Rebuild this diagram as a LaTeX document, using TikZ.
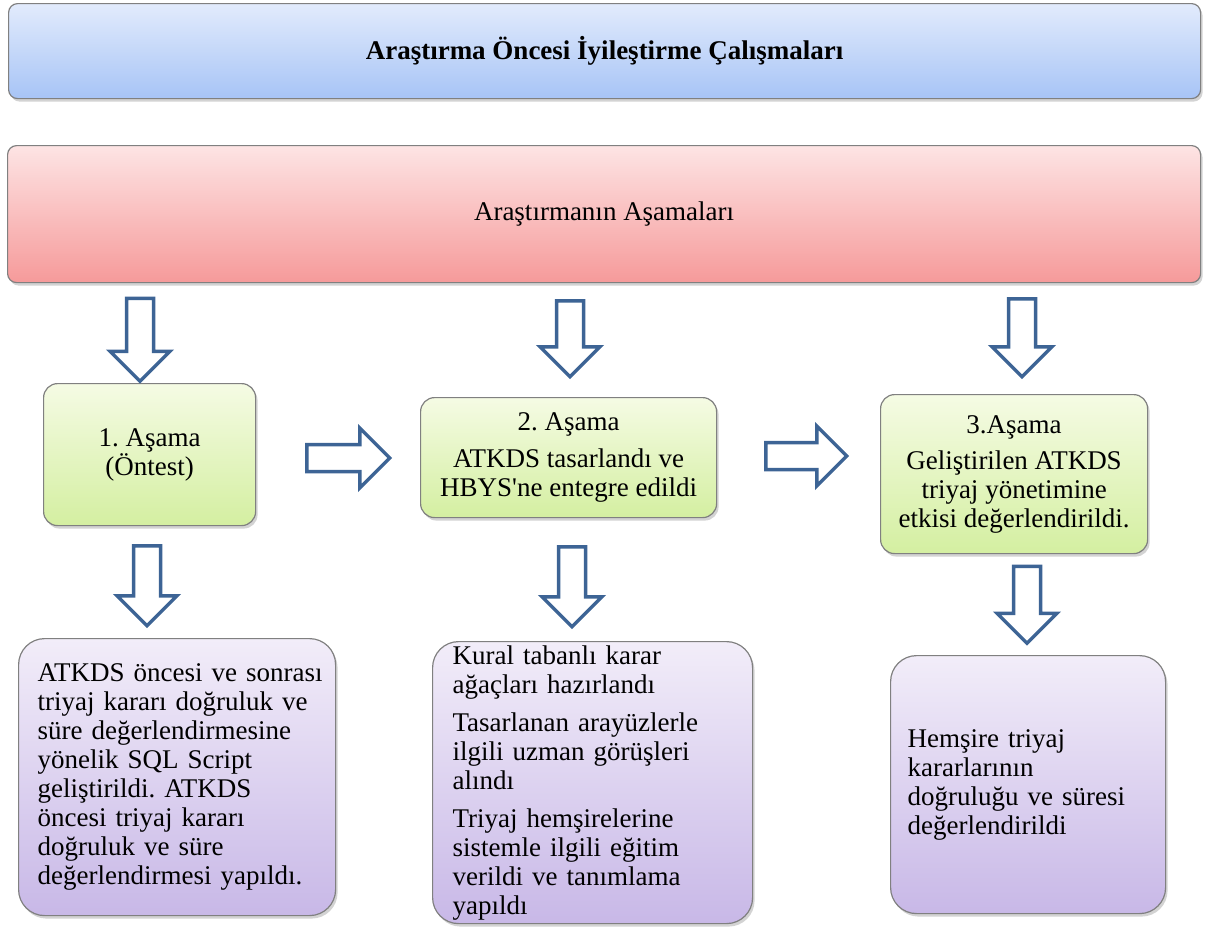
\documentclass[tikz,border=0pt]{standalone}
\usepackage{fontspec}
\setmainfont{Liberation Serif}
\usetikzlibrary{shapes.arrows,shadows,positioning}

\definecolor{arrowblue}{HTML}{3D6495}
\definecolor{boxline}{HTML}{808080}
\definecolor{bluetop}{HTML}{E2EBFC}
\definecolor{bluebot}{HTML}{A7C4F6}
\definecolor{pinktop}{HTML}{FDE4E4}
\definecolor{pinkbot}{HTML}{F69A9A}
\definecolor{greentop}{HTML}{F5FBE4}
\definecolor{greenbot}{HTML}{D4EFA1}
\definecolor{purpletop}{HTML}{F2EDF9}
\definecolor{purplebot}{HTML}{C8B8E7}

\newcommand{\boxfont}{\frenchspacing\fontsize{27}{29}\selectfont}

\tikzset{
  box/.style={draw=boxline, line width=1.2pt, anchor=north west, inner sep=0pt,
    font=\boxfont, drop shadow={shadow xshift=2pt, shadow yshift=-3pt, opacity=.35}},
  banner/.style={box, rounded corners=9pt},
  stage/.style={box, rounded corners=14pt, top color=greentop, bottom color=greenbot, align=center},
  detail/.style={box, rounded corners=26pt, top color=purpletop, bottom color=purplebot, align=left},
  blockarrow/.style={single arrow, draw=arrowblue, fill=white, line width=3.5pt,
    inner xsep=0pt, inner ysep=11.75pt, single arrow head extend=16.5pt, minimum width=0pt},
  downarrow/.style={blockarrow, rotate=-90},
  rightarrow/.style={blockarrow}
}

\begin{document}
\begin{tikzpicture}[x=1pt,y=-1pt]
\useasboundingbox (0,0) rectangle (1216,927);

% banners
\node[banner, top color=bluetop, bottom color=bluebot, minimum width=1192pt, minimum height=95pt,
  font=\bfseries\fontsize{27}{30}\selectfont] (title) at (8,3) {Araştırma Öncesi İyileştirme Çalışmaları};
\node[banner, top color=pinktop, bottom color=pinkbot, minimum width=1193pt, minimum height=137pt] (phases) at (7,145) {Araştırmanın Aşamaları};

% stages
\node[stage, minimum width=212pt, minimum height=142pt] (s1) at (43,383) {1. Aşama\\(Öntest)};
\node[stage, minimum width=296pt, minimum height=120pt] (s2) at (420,397) {2. Aşama\\[8pt]ATKDS tasarlandı ve\\HBYS\textquotesingle ne entegre edildi};
\node[stage, minimum width=267pt, minimum height=159pt] (s3) at (880,394) {3.Aşama\\[7pt]Geliştirilen ATKDS\\triyaj yönetimine\\etkisi değerlendirildi.};

% details
\node[detail, minimum width=317pt, minimum height=277pt, text width=279pt] (d1) at (18,638)
  {\mbox{ATKDS öncesi ve sonrası}\\triyaj kararı doğruluk ve\\süre değerlendirmesine\\yönelik SQL Script\\geliştirildi. ATKDS\\öncesi triyaj kararı\\doğruluk ve süre\\\mbox{değerlendirmesi yapıldı.}};
\node[detail, minimum width=320pt, minimum height=282pt, text width=280pt] (d2) at (432,641)
  {Kural tabanlı karar\\ağaçları hazırlandı\\[9pt]Tasarlanan arayüzlerle\\ilgili uzman görüşleri\\alındı\\[9pt]Triyaj hemşirelerine\\sistemle ilgili eğitim\\verildi ve tanımlama\\yapıldı};
\node[detail, minimum width=275pt, minimum height=258pt, text width=241pt] (d3) at (890,655)
  {Hemşire triyaj\\kararlarının\\doğruluğu ve süresi\\değerlendirildi};

% arrows
\node[downarrow, minimum height=83pt] (a1) at (140,333) {};
\node[downarrow, minimum height=76pt] (a2) at (570,332) {};
\node[downarrow, minimum height=78pt] (a3) at (1022,331) {};
\node[downarrow, minimum height=80pt] (a4) at (147,579) {};
\node[downarrow, minimum height=80pt] (a5) at (572,580) {};
\node[downarrow, minimum height=77pt] (a6) at (1027,598) {};
\node[rightarrow, minimum height=83pt] (r1) at (341.5,458) {};
\node[rightarrow, minimum height=81pt] (r2) at (799.5,456) {};
\end{tikzpicture}
\end{document}
